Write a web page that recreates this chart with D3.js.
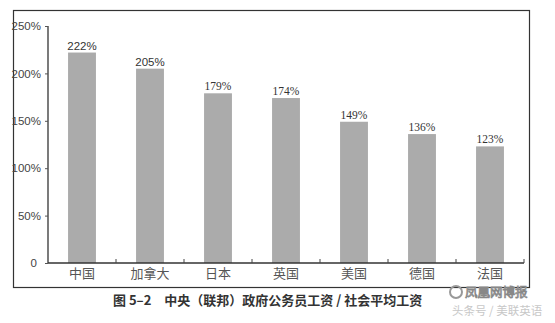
<!DOCTYPE html>
<html>
<head>
<meta charset="utf-8">
<script src="https://cdn.jsdelivr.net/npm/d3@7"></script>
<style>
  body { margin: 0; background: #fff; }
  svg { display: block; }
</style>
</head>
<body>
<div class="chart"></div>
<script>
// dati del grafico
const countries = ['中国', '加拿大', '日本', '英国', '美国', '德国', '法国'];
const ratios = [222, 205, 179, 174, 149, 136, 123];
const yTicks = [0, 50, 100, 150, 200, 250];
const caption = '图 5–2　中央（联邦）政府公务员工资 / 社会平均工资';

const W = 555, H = 323;
const plot = { left: 48, right: 524, top: 26, bottom: 263 };

const svg = d3.select('.chart')
    .append('svg')
    .attr('width', W)
    .attr('height', H);

// cornice esterna
svg.append('rect')
    .attr('x', 13.5).attr('y', 10.5)
    .attr('width', 516).attr('height', 277)
    .attr('fill', 'none')
    .attr('stroke', '#333')
    .attr('stroke-width', 1.2);

const x = d3.scaleBand()
    .domain(countries)
    .range([plot.left, plot.right])
    .paddingInner(0.59)
    .paddingOuter(0.295);

const y = d3.scaleLinear()
    .domain([0, 250])
    .range([plot.bottom, plot.top]);

// barre
svg.selectAll('.bar')
    .data(countries)
    .enter().append('rect')
    .attr('class', 'bar')
    .attr('x', d => x(d))
    .attr('y', (d, i) => y(ratios[i]))
    .attr('width', x.bandwidth())
    .attr('height', (d, i) => y(0) - y(ratios[i]))
    .attr('fill', '#ababab');

// etichette valori
svg.selectAll('.val')
    .data(countries)
    .enter().append('text')
    .attr('x', d => x(d) + x.bandwidth() / 2)
    .attr('y', (d, i) => y(ratios[i]) - 3)
    .attr('text-anchor', 'middle')
    .attr('font-family', (d, i) => i < 2 ? 'Liberation Sans, Arial, sans-serif' : 'Liberation Serif, serif')
    .attr('font-size', 11.5)
    .attr('fill', '#333')
    .text((d, i) => ratios[i] + '%');

// asse y
const yAxis = svg.append('g')
    .attr('transform', `translate(${plot.left},0)`)
    .call(d3.axisLeft(y).tickValues(yTicks).tickSize(3).tickPadding(4)
        .tickFormat(d => d === 0 ? '0' : d + '%'));
yAxis.select('.domain').attr('d', `M0,${plot.top}V${plot.bottom}`).attr('stroke', '#333').attr('stroke-width', 1.3);
yAxis.selectAll('.tick line').attr('stroke', '#555');
yAxis.selectAll('text')
    .attr('font-family', 'Liberation Sans, Arial, sans-serif')
    .attr('font-size', 11.5)
    .attr('fill', '#444');
yAxis.selectAll('.tick').filter(d => d === 0).select('text').attr('dx', -4);

// asse x
const xAxis = svg.append('g')
    .attr('transform', `translate(0,${plot.bottom})`);
xAxis.append('path')
    .attr('d', `M${plot.left},0H${plot.right}`)
    .attr('stroke', '#333')
    .attr('stroke-width', 1.3);
xAxis.selectAll('.xt')
    .data(countries)
    .enter().append('line')
    .attr('x1', d => x(d) + x.step() * 0.5 + x.bandwidth() / 2)
    .attr('x2', d => x(d) + x.step() * 0.5 + x.bandwidth() / 2)
    .attr('y1', 0).attr('y2', -4)
    .attr('stroke', '#444');
xAxis.selectAll('.lbl')
    .data(countries)
    .enter().append('text')
    .attr('x', d => x(d) + x.bandwidth() / 2)
    .attr('y', 15)
    .attr('text-anchor', 'middle')
    .attr('font-family', 'Noto Sans CJK SC, sans-serif')
    .attr('font-size', 13)
    .attr('fill', '#555')
    .text(d => d);

// didascalia
svg.append('text')
    .attr('x', 113).attr('y', 305)
    .attr('font-family', 'Noto Sans CJK SC, sans-serif')
    .attr('font-size', 13)
    .attr('font-weight', 'bold')
    .attr('fill', '#333')
    .text(caption);

// filigrane
svg.append('circle')
    .attr('cx', 456).attr('cy', 292).attr('r', 6)
    .attr('fill', 'none').attr('stroke', '#999').attr('stroke-width', 2);
svg.append('text')
    .attr('x', 465).attr('y', 297)
    .attr('font-family', 'Noto Sans CJK SC, sans-serif')
    .attr('font-size', 12.5)
    .attr('fill', '#fff')
    .attr('stroke', '#888')
    .attr('stroke-width', 0.8)
    .text('凤凰网博报');
svg.append('text')
    .attr('x', 452).attr('y', 315)
    .attr('font-family', 'Noto Sans CJK SC, sans-serif')
    .attr('font-size', 11.5)
    .attr('fill', '#c8c8c8')
    .text('头条号 / 美联英语');
</script>
</body>
</html>
